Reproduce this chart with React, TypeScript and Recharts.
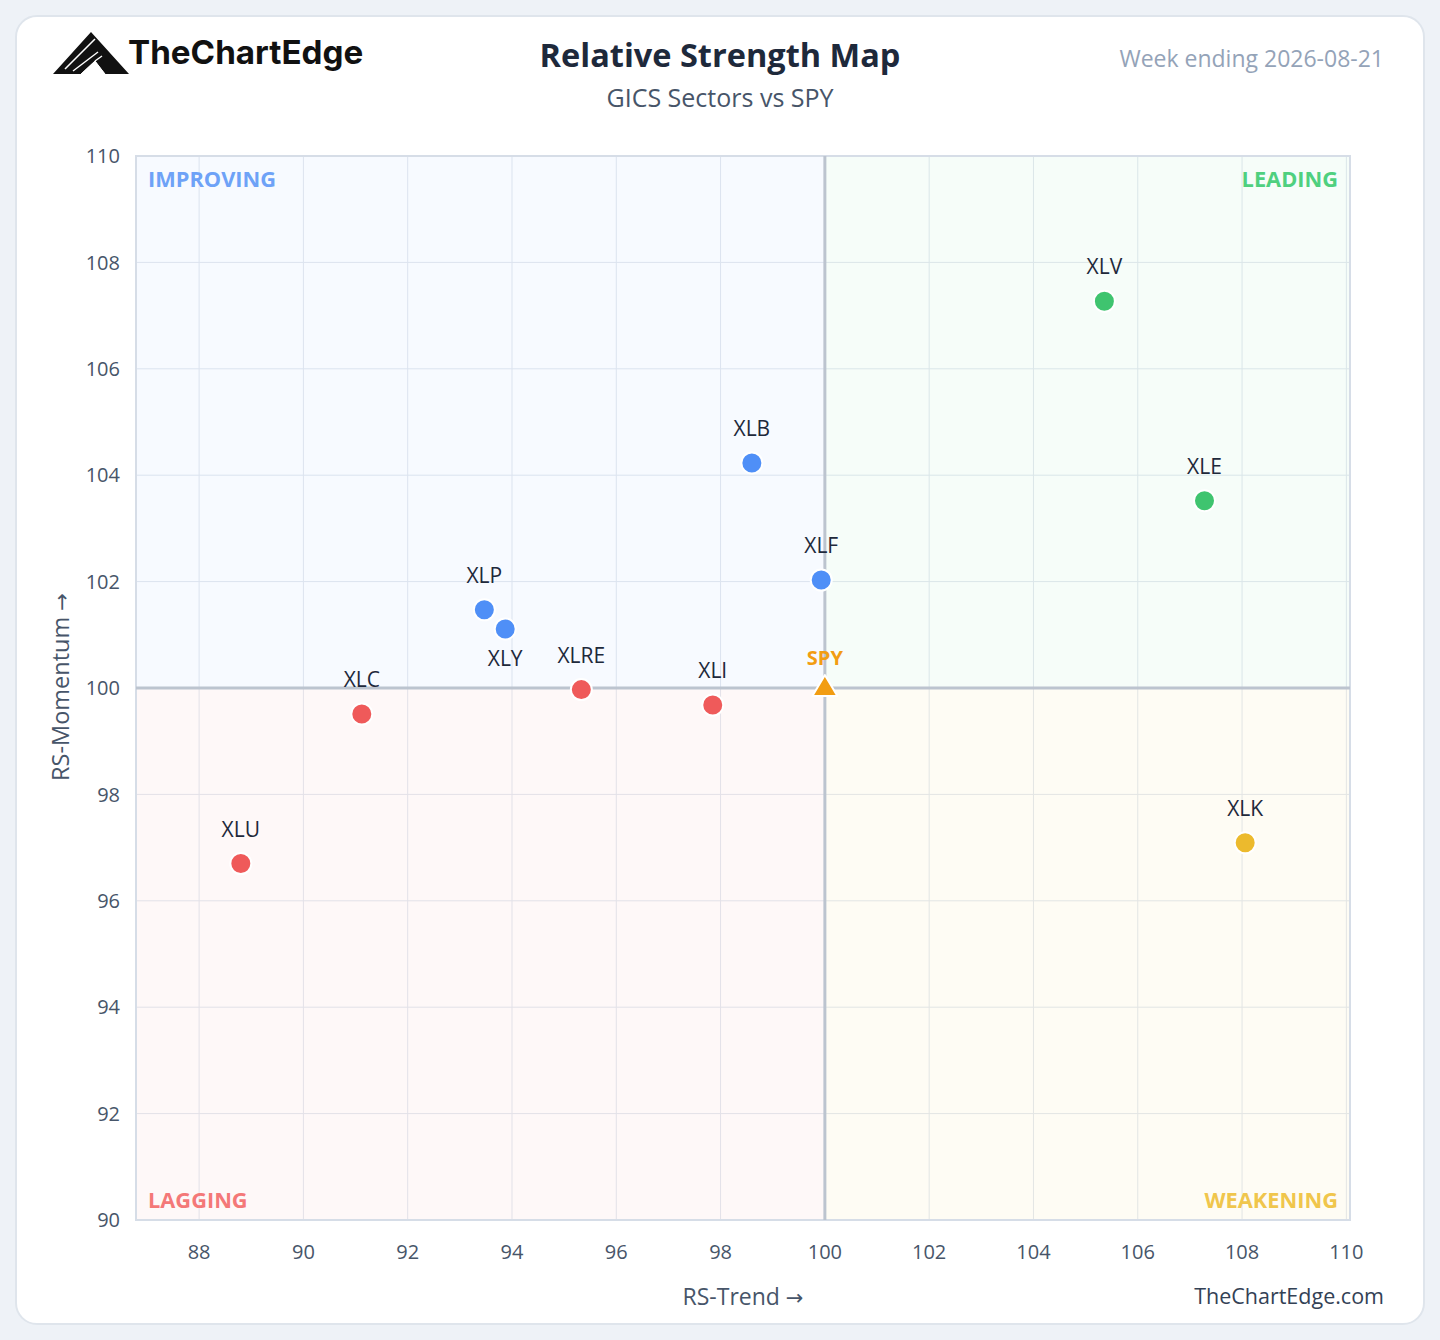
import React from "react";
import {
  ScatterChart,
  Scatter,
  XAxis,
  YAxis,
  CartesianGrid,
  ReferenceArea,
  ReferenceLine,
  LabelList,
} from "recharts";

const tickers = ["XLV", "XLE", "XLB", "XLF", "XLP", "XLY", "XLRE", "XLI", "XLC", "XLU", "XLK"];
const rsTrend = [105.36, 107.28, 98.6, 99.93, 93.47, 93.87, 95.33, 97.85, 91.12, 88.8, 108.06];
const rsMomentum = [107.27, 103.52, 104.23, 102.03, 101.47, 101.11, 99.97, 99.68, 99.51, 96.7, 97.09];
const benchmark = { name: "SPY", x: 100, y: 100 };
const labelBelow = ["XLY"];

const xTicks = [88, 90, 92, 94, 96, 98, 100, 102, 104, 106, 108, 110];
const yTicks = [90, 92, 94, 96, 98, 100, 102, 104, 106, 108, 110];
const xDomain: [number, number] = [86.79, 110.07];
const yDomain: [number, number] = [90, 110];

const FONT = "'Open Sans', 'Noto Sans', sans-serif";
const ARROW_FONT = "'DejaVu Sans', sans-serif";

const quadrantColor = (x: number, y: number) => {
  if (x >= 100 && y >= 100) return "#3fc46f";
  if (x < 100 && y >= 100) return "#4f8ff7";
  if (x < 100 && y < 100) return "#ef5a5a";
  return "#ecba2d";
};

const sectorData = tickers.map((t, i) => ({
  name: t,
  x: rsTrend[i],
  y: rsMomentum[i],
  color: quadrantColor(rsTrend[i], rsMomentum[i]),
}));
const spyData = [benchmark];

const Dot = (props: any) => {
  const { cx, cy, payload } = props;
  if (cx == null || cy == null) return null;
  return <circle cx={cx} cy={cy} r={10.5} fill={payload.color} stroke="#ffffff" strokeWidth={2} />;
};

const Triangle = (props: any) => {
  const { cx, cy } = props;
  if (cx == null || cy == null) return null;
  return (
    <path
      d={`M${cx},${cy - 13} L${cx + 12.5},${cy + 8} L${cx - 12.5},${cy + 8} Z`}
      fill="#f29d12"
      stroke="#ffffff"
      strokeWidth={2}
      strokeLinejoin="round"
    />
  );
};

const SectorLabel = (props: any) => {
  const { x, y, width, height, value } = props;
  const cx = x + width / 2;
  const cy = y + height / 2;
  const below = labelBelow.includes(value);
  return (
    <text
      x={cx}
      y={below ? cy + 29 : cy - 35}
      textAnchor="middle"
      dominantBaseline="central"
      fontSize={21}
      fontWeight={500}
      fontFamily={FONT}
      fill="#1e293b"
    >
      {value}
    </text>
  );
};

const SpyLabel = (props: any) => {
  const { x, y, width, height, value } = props;
  const cx = x + width / 2;
  const cy = y + height / 2;
  return (
    <text
      x={cx}
      y={cy - 31}
      textAnchor="middle"
      dominantBaseline="central"
      fontSize={20}
      fontWeight={700}
      fontFamily={FONT}
      fill="#f29d12"
    >
      {value}
    </text>
  );
};

const quadLabel = (text: string, color: string, position: any, dy: number) => ({
  value: text,
  position,
  offset: 12,
  dy,
  fill: color,
  fontSize: 21.8,
  fontWeight: 700,
  fontFamily: FONT,
});

const Logo = () => (
  <svg width={80} height={46} viewBox="0 0 80 46" style={{ position: "absolute", left: 51, top: 30 }}>
    <path d="M2,44 L40,2 L78,44 L54,44 L44,31 L30,44 Z" fill="#111111" />
    <path d="M14,39 L44,9" stroke="#ffffff" strokeWidth={1.6} />
    <path d="M22,41 L47,22" stroke="#ffffff" strokeWidth={1.4} />
    <path d="M30,44 L44,31 L54,44" fill="#ffffff" stroke="#ffffff" strokeWidth={1} />
    <path d="M44,31 L51,26" stroke="#ffffff" strokeWidth={1.4} />
  </svg>
);

export default function App() {
  return (
    <div
      style={{
        position: "absolute",
        left: 0,
        top: 0,
        width: 1440,
        height: 1340,
        background: "#eef2f7",
        fontFamily: FONT,
      }}
    >
      <div
        style={{
          position: "absolute",
          left: 15,
          top: 15,
          width: 1406,
          height: 1306,
          background: "#ffffff",
          border: "2px solid #dfe5ec",
          borderRadius: 22,
        }}
      />
      <Logo />
      <div
        style={{
          position: "absolute",
          left: 128,
          top: 32,
          fontSize: 33.2,
          fontWeight: 700,
          color: "#111111",
          fontFamily: "'Inter', 'Open Sans', sans-serif",
          lineHeight: "40px",
          whiteSpace: "nowrap",
        }}
      >
        TheChartEdge
      </div>
      <div
        style={{
          position: "absolute",
          left: 0,
          width: 1440,
          top: 34,
          textAlign: "center",
          fontSize: 32.5,
          fontWeight: 700,
          color: "#1e293b",
          lineHeight: "42px",
        }}
      >
        Relative Strength Map
      </div>
      <div
        style={{
          position: "absolute",
          left: 0,
          width: 1440,
          top: 81,
          textAlign: "center",
          fontSize: 25,
          color: "#475569",
          lineHeight: "32px",
        }}
      >
        GICS Sectors vs SPY
      </div>
      <div
        style={{
          position: "absolute",
          right: 1440 - 1384,
          top: 42,
          fontSize: 23,
          color: "#94a3b8",
          lineHeight: "32px",
          whiteSpace: "nowrap",
        }}
      >
        Week ending 2026-08-21
      </div>
      <div
        style={{
          position: "absolute",
          right: 1440 - 1384,
          top: 1280,
          fontSize: 21.5,
          color: "#334155",
          lineHeight: "32px",
          whiteSpace: "nowrap",
        }}
      >
        TheChartEdge.com
      </div>
      <div style={{ position: "absolute", left: 0, top: 0 }}>
        <ScatterChart
          width={1440}
          height={1340}
          margin={{ top: 156, right: 90, bottom: 60, left: 76 }}
        >
          <ReferenceArea
            x1={xDomain[0]}
            x2={100}
            y1={100}
            y2={110}
            fill="#3b82f6"
            fillOpacity={0.045}
            stroke="none"
            label={quadLabel("IMPROVING", "#6ea2f7", "insideTopLeft", 4)}
          />
          <ReferenceArea
            x1={100}
            x2={xDomain[1]}
            y1={100}
            y2={110}
            fill="#22c55e"
            fillOpacity={0.04}
            stroke="none"
            label={quadLabel("LEADING", "#4fd07f", "insideTopRight", 4)}
          />
          <ReferenceArea
            x1={xDomain[0]}
            x2={100}
            y1={90}
            y2={100}
            fill="#ef4444"
            fillOpacity={0.04}
            stroke="none"
            label={quadLabel("LAGGING", "#f47878", "insideBottomLeft", 0)}
          />
          <ReferenceArea
            x1={100}
            x2={xDomain[1]}
            y1={90}
            y2={100}
            fill="#eab308"
            fillOpacity={0.045}
            stroke="none"
            label={quadLabel("WEAKENING", "#f0c64c", "insideBottomRight", 0)}
          />
          <CartesianGrid stroke="#e3e8ef" strokeWidth={1} />
          <XAxis
            type="number"
            dataKey="x"
            domain={xDomain}
            ticks={xTicks}
            allowDataOverflow
            height={60}
            tickLine={false}
            axisLine={false}
            tickMargin={19}
            tick={{ fontSize: 20, fill: "#475569", fontFamily: FONT }}
          />
          <YAxis
            type="number"
            dataKey="y"
            domain={yDomain}
            ticks={yTicks}
            allowDataOverflow
            width={60}
            tickLine={false}
            axisLine={false}
            tickMargin={10}
            tick={{ fontSize: 20, fill: "#475569", fontFamily: FONT }}
          />
          <ReferenceArea
            x1={xDomain[0]}
            x2={xDomain[1]}
            y1={yDomain[0]}
            y2={yDomain[1]}
            fill="none"
            stroke="#d6dde7"
            strokeWidth={2}
          />
          <ReferenceLine x={100} stroke="#bcc4cf" strokeWidth={3} />
          <ReferenceLine y={100} stroke="#bcc4cf" strokeWidth={3} />
          <Scatter data={sectorData} shape={<Dot />} isAnimationActive={false}>
            <LabelList dataKey="name" content={<SectorLabel />} />
          </Scatter>
          <Scatter data={spyData} shape={<Triangle />} isAnimationActive={false}>
            <LabelList dataKey="name" content={<SpyLabel />} />
          </Scatter>
        </ScatterChart>
      </div>
      <div
        style={{
          position: "absolute",
          left: 643,
          width: 200,
          top: 1280,
          textAlign: "center",
          fontSize: 23,
          color: "#475569",
          lineHeight: "32px",
          whiteSpace: "nowrap",
        }}
      >
        RS-Trend <span style={{ fontFamily: ARROW_FONT, fontSize: 21 }}>→</span>
      </div>
      <div
        style={{
          position: "absolute",
          left: 61 - 110,
          top: 686 - 16,
          width: 220,
          textAlign: "center",
          fontSize: 23.5,
          color: "#475569",
          lineHeight: "32px",
          transform: "rotate(-90deg)",
          whiteSpace: "nowrap",
        }}
      >
        RS-Momentum <span style={{ fontFamily: ARROW_FONT, fontSize: 21 }}>→</span>
      </div>
    </div>
  );
}
